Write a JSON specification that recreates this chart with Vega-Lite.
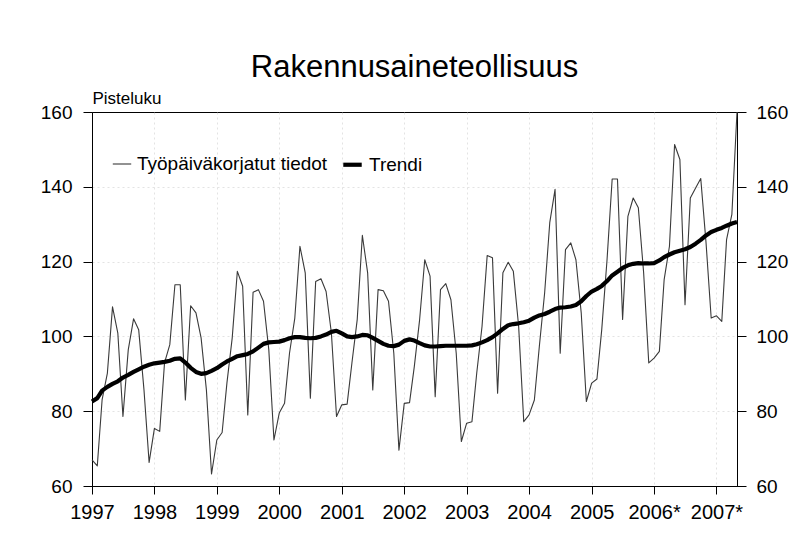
{
  "$schema": "https://vega.github.io/schema/vega-lite/v6.json",
  "width": 645,
  "height": 374,
  "autosize": {"type": "none"},
  "padding": {"left": 92, "top": 112, "right": 73, "bottom": 73},
  "background": "white",
  "title": {
    "text": "Rakennusaineteollisuus",
    "font": "Liberation Sans",
    "fontSize": 31,
    "fontWeight": "normal",
    "color": "black",
    "anchor": "middle",
    "frame": "group",
    "offset": 5
  },
  "data": {
    "values": [
      {"d": "1997-01-01", "raw": 67.0, "trend": 82.6},
      {"d": "1997-02-01", "raw": 65.4, "trend": 83.5},
      {"d": "1997-03-01", "raw": 83.0, "trend": 85.5},
      {"d": "1997-04-01", "raw": 90.2, "trend": 86.5},
      {"d": "1997-05-01", "raw": 107.9, "trend": 87.3},
      {"d": "1997-06-01", "raw": 100.9, "trend": 88.0},
      {"d": "1997-07-01", "raw": 78.6, "trend": 89.0},
      {"d": "1997-08-01", "raw": 96.4, "trend": 89.7},
      {"d": "1997-09-01", "raw": 104.7, "trend": 90.5},
      {"d": "1997-10-01", "raw": 101.8, "trend": 91.2},
      {"d": "1997-11-01", "raw": 85.7, "trend": 91.9},
      {"d": "1997-12-01", "raw": 66.3, "trend": 92.4},
      {"d": "1998-01-01", "raw": 75.4, "trend": 92.8},
      {"d": "1998-02-01", "raw": 74.6, "trend": 93.0},
      {"d": "1998-03-01", "raw": 92.9, "trend": 93.2},
      {"d": "1998-04-01", "raw": 97.8, "trend": 93.5},
      {"d": "1998-05-01", "raw": 113.8, "trend": 94.0},
      {"d": "1998-06-01", "raw": 113.8, "trend": 94.1},
      {"d": "1998-07-01", "raw": 83.0, "trend": 93.0},
      {"d": "1998-08-01", "raw": 108.2, "trend": 91.6},
      {"d": "1998-09-01", "raw": 106.3, "trend": 90.5},
      {"d": "1998-10-01", "raw": 99.6, "trend": 90.0},
      {"d": "1998-11-01", "raw": 85.7, "trend": 90.2},
      {"d": "1998-12-01", "raw": 63.2, "trend": 90.8},
      {"d": "1999-01-01", "raw": 72.3, "trend": 91.5},
      {"d": "1999-02-01", "raw": 74.3, "trend": 92.5},
      {"d": "1999-03-01", "raw": 87.5, "trend": 93.3},
      {"d": "1999-04-01", "raw": 99.6, "trend": 94.0},
      {"d": "1999-05-01", "raw": 117.4, "trend": 94.7},
      {"d": "1999-06-01", "raw": 113.4, "trend": 95.0},
      {"d": "1999-07-01", "raw": 79.0, "trend": 95.3},
      {"d": "1999-08-01", "raw": 111.8, "trend": 96.0},
      {"d": "1999-09-01", "raw": 112.5, "trend": 97.0},
      {"d": "1999-10-01", "raw": 109.4, "trend": 98.0},
      {"d": "1999-11-01", "raw": 96.4, "trend": 98.4},
      {"d": "1999-12-01", "raw": 72.3, "trend": 98.5},
      {"d": "2000-01-01", "raw": 79.5, "trend": 98.6},
      {"d": "2000-02-01", "raw": 82.1, "trend": 99.0},
      {"d": "2000-03-01", "raw": 95.5, "trend": 99.5},
      {"d": "2000-04-01", "raw": 104.9, "trend": 99.8},
      {"d": "2000-05-01", "raw": 124.1, "trend": 99.8},
      {"d": "2000-06-01", "raw": 117.0, "trend": 99.6},
      {"d": "2000-07-01", "raw": 83.5, "trend": 99.5},
      {"d": "2000-08-01", "raw": 114.7, "trend": 99.6},
      {"d": "2000-09-01", "raw": 115.4, "trend": 100.0},
      {"d": "2000-10-01", "raw": 112.0, "trend": 100.5},
      {"d": "2000-11-01", "raw": 100.9, "trend": 101.2},
      {"d": "2000-12-01", "raw": 78.6, "trend": 101.5},
      {"d": "2001-01-01", "raw": 81.7, "trend": 100.8},
      {"d": "2001-02-01", "raw": 81.9, "trend": 100.0},
      {"d": "2001-03-01", "raw": 92.9, "trend": 99.8},
      {"d": "2001-04-01", "raw": 104.5, "trend": 100.0},
      {"d": "2001-05-01", "raw": 127.0, "trend": 100.4},
      {"d": "2001-06-01", "raw": 117.0, "trend": 100.3},
      {"d": "2001-07-01", "raw": 85.7, "trend": 99.6},
      {"d": "2001-08-01", "raw": 112.5, "trend": 98.8},
      {"d": "2001-09-01", "raw": 112.2, "trend": 98.0},
      {"d": "2001-10-01", "raw": 109.4, "trend": 97.5},
      {"d": "2001-11-01", "raw": 95.5, "trend": 97.4},
      {"d": "2001-12-01", "raw": 69.6, "trend": 97.8},
      {"d": "2002-01-01", "raw": 82.1, "trend": 98.8},
      {"d": "2002-02-01", "raw": 82.3, "trend": 99.2},
      {"d": "2002-03-01", "raw": 92.0, "trend": 98.9},
      {"d": "2002-04-01", "raw": 104.5, "trend": 98.2},
      {"d": "2002-05-01", "raw": 120.5, "trend": 97.6},
      {"d": "2002-06-01", "raw": 116.1, "trend": 97.3},
      {"d": "2002-07-01", "raw": 83.9, "trend": 97.3},
      {"d": "2002-08-01", "raw": 112.5, "trend": 97.4},
      {"d": "2002-09-01", "raw": 114.1, "trend": 97.5},
      {"d": "2002-10-01", "raw": 109.8, "trend": 97.5},
      {"d": "2002-11-01", "raw": 95.5, "trend": 97.5},
      {"d": "2002-12-01", "raw": 71.9, "trend": 97.5},
      {"d": "2003-01-01", "raw": 76.8, "trend": 97.5},
      {"d": "2003-02-01", "raw": 77.2, "trend": 97.6},
      {"d": "2003-03-01", "raw": 90.2, "trend": 97.9},
      {"d": "2003-04-01", "raw": 102.7, "trend": 98.4},
      {"d": "2003-05-01", "raw": 121.6, "trend": 99.0},
      {"d": "2003-06-01", "raw": 121.0, "trend": 99.8},
      {"d": "2003-07-01", "raw": 84.8, "trend": 100.8},
      {"d": "2003-08-01", "raw": 117.0, "trend": 102.0},
      {"d": "2003-09-01", "raw": 119.8, "trend": 103.0},
      {"d": "2003-10-01", "raw": 117.4, "trend": 103.3},
      {"d": "2003-11-01", "raw": 102.7, "trend": 103.5},
      {"d": "2003-12-01", "raw": 77.2, "trend": 103.8},
      {"d": "2004-01-01", "raw": 79.0, "trend": 104.2},
      {"d": "2004-02-01", "raw": 83.0, "trend": 105.0},
      {"d": "2004-03-01", "raw": 97.3, "trend": 105.6},
      {"d": "2004-04-01", "raw": 111.6, "trend": 106.0},
      {"d": "2004-05-01", "raw": 130.4, "trend": 106.6},
      {"d": "2004-06-01", "raw": 139.3, "trend": 107.3},
      {"d": "2004-07-01", "raw": 95.5, "trend": 107.7},
      {"d": "2004-08-01", "raw": 123.2, "trend": 107.8},
      {"d": "2004-09-01", "raw": 125.0, "trend": 108.0},
      {"d": "2004-10-01", "raw": 120.5, "trend": 108.4},
      {"d": "2004-11-01", "raw": 106.3, "trend": 109.4},
      {"d": "2004-12-01", "raw": 82.6, "trend": 110.8},
      {"d": "2005-01-01", "raw": 87.5, "trend": 112.0},
      {"d": "2005-02-01", "raw": 88.6, "trend": 112.7},
      {"d": "2005-03-01", "raw": 101.8, "trend": 113.5},
      {"d": "2005-04-01", "raw": 120.5, "trend": 114.8},
      {"d": "2005-05-01", "raw": 142.1, "trend": 116.3},
      {"d": "2005-06-01", "raw": 142.1, "trend": 117.3},
      {"d": "2005-07-01", "raw": 104.5, "trend": 118.3},
      {"d": "2005-08-01", "raw": 132.1, "trend": 119.0},
      {"d": "2005-09-01", "raw": 137.0, "trend": 119.4},
      {"d": "2005-10-01", "raw": 134.4, "trend": 119.6},
      {"d": "2005-11-01", "raw": 117.0, "trend": 119.5},
      {"d": "2005-12-01", "raw": 92.9, "trend": 119.5},
      {"d": "2006-01-01", "raw": 94.2, "trend": 119.6},
      {"d": "2006-02-01", "raw": 96.0, "trend": 120.3},
      {"d": "2006-03-01", "raw": 115.2, "trend": 121.2},
      {"d": "2006-04-01", "raw": 124.1, "trend": 121.9},
      {"d": "2006-05-01", "raw": 151.3, "trend": 122.5},
      {"d": "2006-06-01", "raw": 147.3, "trend": 122.9},
      {"d": "2006-07-01", "raw": 108.5, "trend": 123.3},
      {"d": "2006-08-01", "raw": 137.0, "trend": 123.9},
      {"d": "2006-09-01", "raw": 139.7, "trend": 124.8},
      {"d": "2006-10-01", "raw": 142.2, "trend": 125.8},
      {"d": "2006-11-01", "raw": 125.0, "trend": 127.0},
      {"d": "2006-12-01", "raw": 104.9, "trend": 127.9},
      {"d": "2007-01-01", "raw": 105.5, "trend": 128.5},
      {"d": "2007-02-01", "raw": 104.0, "trend": 129.0},
      {"d": "2007-03-01", "raw": 125.9, "trend": 129.6},
      {"d": "2007-04-01", "raw": 132.6, "trend": 130.2},
      {"d": "2007-05-01", "raw": 160.0, "trend": 130.6}
    ]
  },
  "transform": [{"fold": ["raw", "trend"], "as": ["s", "v"]}],
  "encoding": {
    "x": {
      "field": "d",
      "type": "temporal",
      "scale": {
        "type": "utc",
        "domain": [
          {"year": 1997, "month": 1, "date": 1, "utc": true},
          {"year": 2007, "month": 5, "date": 1, "utc": true}
        ]
      },
      "axis": {
        "title": null,
        "values": [
          {"year": 1997, "month": 1, "date": 1, "utc": true},
          {"year": 1998, "month": 1, "date": 1, "utc": true},
          {"year": 1999, "month": 1, "date": 1, "utc": true},
          {"year": 2000, "month": 1, "date": 1, "utc": true},
          {"year": 2001, "month": 1, "date": 1, "utc": true},
          {"year": 2002, "month": 1, "date": 1, "utc": true},
          {"year": 2003, "month": 1, "date": 1, "utc": true},
          {"year": 2004, "month": 1, "date": 1, "utc": true},
          {"year": 2005, "month": 1, "date": 1, "utc": true},
          {"year": 2006, "month": 1, "date": 1, "utc": true},
          {"year": 2007, "month": 1, "date": 1, "utc": true}
        ],
        "labelExpr": "utcFormat(datum.value, '%Y') + (utcyear(datum.value) >= 2006 ? '*' : '')",
        "labelFont": "Liberation Sans",
        "labelFontSize": 20,
        "labelColor": "black",
        "labelPadding": 8,
        "labelOverlap": false,
        "labelFlush": false,
        "tickSize": 8,
        "tickColor": "black",
        "domainColor": "black",
        "grid": true,
        "gridColor": "#d0d0d0",
        "gridDash": [2, 3],
        "gridOpacity": {"condition": {"test": "utcyear(datum.value) == 1997", "value": 0}, "value": 0.6}
      }
    }
  },
  "layer": [
    {
      "mark": {"type": "line", "strokeJoin": "round"},
      "encoding": {
        "y": {
          "field": "v",
          "type": "quantitative",
          "scale": {"domain": [60, 160], "nice": false, "zero": false},
          "axis": {
            "orient": "left",
            "values": [60, 80, 100, 120, 140, 160],
            "title": "Pisteluku",
            "titleAngle": 0,
            "titleAlign": "left",
            "titleBaseline": "alphabetic",
            "titleX": 0,
            "titleY": -9,
            "titleFont": "Liberation Sans",
            "titleFontSize": 17,
            "titleFontWeight": "normal",
            "titleColor": "black",
            "labelFont": "Liberation Sans",
            "labelFontSize": 19,
            "labelColor": "black",
            "labelPadding": 11,
            "tickSize": 9,
            "tickColor": "black",
            "domainColor": "black",
            "grid": true,
            "gridColor": "#d0d0d0",
            "gridDash": [2, 3],
            "gridOpacity": {"condition": {"test": "datum.value == 160 || datum.value == 60", "value": 0}, "value": 0.6}
          }
        },
        "color": {
          "field": "s",
          "type": "nominal",
          "scale": {"domain": ["raw", "trend"], "range": ["#3a3a3a", "#000000"]},
          "legend": {
            "orient": "none",
            "legendX": 20,
            "legendY": 41,
            "direction": "horizontal",
            "title": null,
            "labelExpr": "datum.label == 'raw' ? 'Työpäiväkorjatut tiedot' : 'Trendi'",
            "labelFont": "Liberation Sans",
            "labelFontSize": 19,
            "labelColor": "black",
            "labelLimit": 0,
            "symbolType": "stroke",
            "symbolSize": 340,
            "columnPadding": 6,
            "labelOffset": 5
          }
        },
        "strokeWidth": {
          "field": "s",
          "type": "nominal",
          "scale": {"domain": ["raw", "trend"], "range": [1.1, 4.2]},
          "legend": {
            "orient": "none",
            "legendX": 20,
            "legendY": 41,
            "direction": "horizontal",
            "title": null,
            "labelExpr": "datum.label == 'raw' ? 'Työpäiväkorjatut tiedot' : 'Trendi'",
            "labelFont": "Liberation Sans",
            "labelFontSize": 19,
            "labelColor": "black",
            "labelLimit": 0,
            "symbolType": "stroke",
            "symbolSize": 340,
            "columnPadding": 6,
            "labelOffset": 5
          }
        }
      }
    },
    {
      "mark": {"type": "line", "strokeOpacity": 0},
      "encoding": {
        "detail": {"field": "s", "type": "nominal"},
        "y": {
          "field": "v",
          "type": "quantitative",
          "scale": {"domain": [60, 160], "nice": false, "zero": false},
          "axis": {
            "orient": "right",
            "values": [60, 80, 100, 120, 140, 160],
            "title": null,
            "labelFont": "Liberation Sans",
            "labelFontSize": 19,
            "labelColor": "black",
            "labelPadding": 10,
            "tickSize": 9,
            "tickColor": "black",
            "domainColor": "black",
            "grid": false
          }
        }
      }
    }
  ],
  "resolve": {"scale": {"y": "independent"}},
  "config": {
    "view": {"stroke": "black", "strokeWidth": 1},
    "axis": {"domainWidth": 1, "tickWidth": 1}
  }
}
